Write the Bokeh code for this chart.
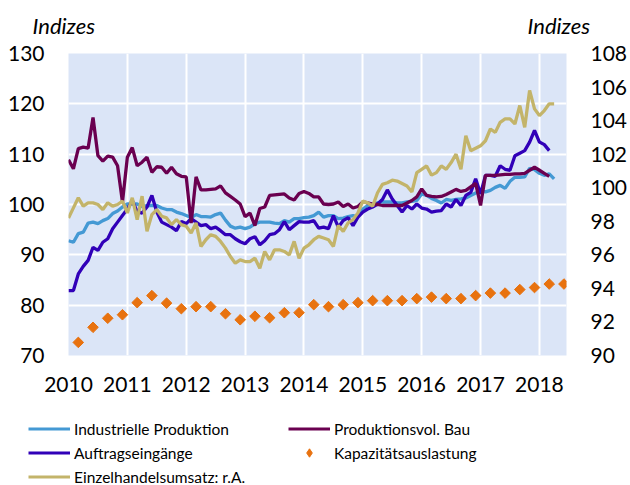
import math
from bokeh.plotting import figure
from bokeh.layouts import column
from bokeh.models import (Range1d, LinearAxis, FixedTicker, Legend, LegendItem, Label)
from bokeh.embed import file_html
from bokeh.resources import INLINE

# ---------------- data (monthly, from Jan 2010) ----------------
start_year = 2010
year_ticks = [2010, 2011, 2012, 2013, 2014, 2015, 2016, 2017, 2018]
left_ticks = [70, 80, 90, 100, 110, 120, 130]
right_ticks = [90, 92, 94, 96, 98, 100, 102, 104, 106, 108]

industrielle_produktion = [
    92.8, 92.5, 94.2, 94.5, 96.3, 96.5, 96.2, 96.8, 97.2, 98.2, 98.7, 99.5,
    100.1, 100.1, 100.1, 99.6, 99.8, 99.8, 99.8, 99.3, 99.0, 99.0, 98.5, 98.2,
    97.8, 97.4, 98.0, 97.6, 97.6, 97.5, 98.0, 98.3, 96.9, 95.7, 95.3, 95.5,
    95.2, 95.5, 96.2, 96.5, 96.5, 96.5, 96.3, 96.2, 96.8, 96.5, 97.2, 97.2,
    97.4, 97.5, 97.8, 98.5, 97.5, 97.8, 97.8, 97.2, 97.3, 97.6, 97.8, 97.5,
    99.1, 99.8, 100.1, 100.3, 100.5, 100.5, 100.5, 100.3, 100.3, 100.5, 100.6, 100.8,
    102.1, 101.8, 101.2, 100.8, 100.3, 101.0, 100.8, 101.0, 101.1, 101.3, 101.8, 102.3,
    102.7, 102.5, 102.8, 103.4, 103.8, 103.2, 104.6, 105.4, 105.4, 105.5, 107.2, 106.9,
    106.2, 105.8, 106.1, 105.1,
]
produktion_bau = [
    108.9, 107.1, 111.1, 111.4, 111.2, 117.3, 109.7, 108.6, 109.6, 109.4, 107.7, 100.5,
    109.4, 111.3, 107.7, 108.4, 109.4, 106.4, 107.5, 107.4, 106.2, 107.4, 106.1, 105.6,
    105.5, 96.3, 105.5, 102.9, 102.9, 103.0, 103.1, 103.7, 102.3, 101.6, 100.9, 100.1,
    97.6, 98.3, 95.8, 99.2, 99.5, 101.8, 101.9, 102.0, 102.1, 101.3, 100.9, 102.2,
    102.6, 102.2, 101.5, 101.5, 100.1, 100.0, 100.1, 100.5, 99.6, 100.1, 99.3, 99.6,
    100.5, 100.3, 100.1, 100.0, 99.8, 99.8, 99.8, 99.8, 99.8, 100.3, 100.8, 101.5,
    103.1, 101.8, 101.6, 101.5, 101.6, 102.0, 102.5, 103.0, 102.6, 102.8, 103.5, 104.2,
    99.8, 105.8, 105.8, 105.8, 105.9, 106.0, 106.0, 106.1, 106.1, 106.2, 106.8, 107.4,
    106.8, 106.2, 105.6,
]
auftragseingaenge = [
    82.9, 82.9, 86.2, 87.7, 88.9, 91.5, 90.9, 92.5, 93.2, 95.2, 96.5, 97.8,
    99.1, 100.8, 98.6, 98.3, 99.5, 101.8, 98.5, 96.5, 96.0, 95.5, 94.8, 96.6,
    96.2, 97.2, 96.5, 95.8, 96.0, 95.2, 95.5, 94.8, 94.0, 94.0, 93.2, 92.6,
    92.2, 93.2, 93.6, 92.0, 92.8, 94.0, 94.2, 95.0, 96.6, 95.0, 95.8, 96.6,
    96.5, 96.5, 96.8, 95.3, 95.5, 95.2, 97.8, 95.5, 96.8, 97.4, 95.8, 97.5,
    98.5, 99.1, 99.5, 100.1, 101.0, 102.9, 101.1, 99.8, 98.5, 99.8, 99.1, 100.1,
    99.3, 99.1, 98.5, 98.7, 98.8, 100.1, 99.5, 101.0, 99.8, 101.8, 102.4, 105.1,
    102.1, 105.8, 105.8, 105.6, 107.7, 107.0, 106.8, 109.7, 110.2, 110.7, 112.4, 114.7,
    112.4, 111.9, 110.7,
]
einzelhandelsumsatz = [
    98.2, 98.8, 99.4, 98.9, 99.1, 99.1, 99.0, 98.7, 99.1, 98.9, 99.0, 99.2,
    98.5, 99.4, 98.1, 99.5, 97.4, 98.4, 98.7, 98.3, 98.2, 97.8, 98.1, 97.8,
    97.7, 97.3, 97.9, 96.5, 96.9, 97.2, 97.1, 96.8, 96.4, 95.9, 95.5, 95.7,
    95.6, 95.6, 95.8, 95.2, 96.2, 95.7, 96.3, 96.3, 96.2, 96.0, 96.8, 95.8,
    96.4, 96.6, 96.9, 97.1, 97.0, 96.9, 96.5, 97.75, 97.4, 97.9, 98.1, 98.5,
    99.2, 99.1, 98.9, 99.7, 100.2, 100.3, 100.45, 100.4, 100.25, 100.1, 99.75, 100.9,
    101.1, 101.3, 100.75, 100.9, 101.3, 101.1, 101.5, 102.0, 101.1, 103.1, 102.2, 102.35,
    102.5, 102.8, 103.5, 103.3, 103.9, 104.1, 104.1, 103.8, 104.9, 103.6, 105.8, 104.7,
    104.3, 104.6, 105.0, 105.0,
]
# quarterly, 2010Q1 .. 2018Q2
kapazitaetsauslastung = [
    72.6, 75.6, 77.4, 78.1, 80.5, 81.9, 80.4, 79.3, 79.7, 79.7, 78.3, 77.1,
    77.8, 77.5, 78.5, 78.5, 80.1, 79.7, 80.1, 80.5, 80.9, 80.9, 80.9, 81.3,
    81.6, 81.3, 81.3, 81.9, 82.4, 82.4, 83.1, 83.5, 84.2, 84.2,
]

labels = ["Industrielle Produktion", "Produktionsvol. Bau", "Auftragseingänge",
          "Kapazitätsauslastung", "Einzelhandelsumsatz: r.A."]
axis_title = "Indizes"


def month_x(n):
    return [start_year + i / 12 for i in range(n)]


x_ip = month_x(len(industrielle_produktion))
x_bau = month_x(len(produktion_bau))
x_auf = month_x(len(auftragseingaenge))
x_ezh = month_x(len(einzelhandelsumsatz))
x_kap = [start_year + (3 * q + 2) / 12 for q in range(len(kapazitaetsauslastung))]

C_IP = "#4499d4"
C_BAU = "#6a0050"
C_AUF = "#3100b8"
C_EZH = "#c3b46a"
C_KAP = "#e8720f"
BG = "#dbe5f7"
FONT = "Lato"
W = 630
H_HEAD, H_MAIN, H_FOOT = 41, 359, 85


def bare(fig):
    fig.outline_line_color = None
    fig.background_fill_color = "white"
    fig.border_fill_color = "white"
    fig.xgrid.visible = False
    fig.ygrid.visible = False


# ---------------- header (axis titles) ----------------
head = figure(width=W, height=H_HEAD, output_backend="svg", toolbar_location=None,
              x_range=Range1d(0, W), y_range=Range1d(H_HEAD, 0),
              x_axis_location=None, y_axis_location=None, min_border=0,
              frame_align=False)
bare(head)
for xx in (32, 527):
    head.add_layout(Label(x=xx, y=25, text=axis_title, text_font=FONT,
                          text_font_style="italic", text_font_size="22px",
                          text_color="black", text_baseline="alphabetic"))

# ---------------- main chart ----------------
p = figure(width=W, height=H_MAIN, output_backend="svg", toolbar_location=None,
           x_range=Range1d(2010, 2018.46), y_range=Range1d(70, 130),
           min_border_left=68, min_border_right=62, min_border_top=12,
           min_border_bottom=45, frame_align=False)
p.background_fill_color = BG
p.border_fill_color = "white"
p.outline_line_color = None
p.extra_y_ranges = {"right": Range1d(90, 108)}

p.xaxis.ticker = FixedTicker(ticks=year_ticks)
p.yaxis.ticker = FixedTicker(ticks=left_ticks)
ax_r = LinearAxis(y_range_name="right", ticker=FixedTicker(ticks=right_ticks))
p.add_layout(ax_r, "right")
for ax in (p.xaxis[0], p.yaxis[0], ax_r):
    ax.axis_line_color = None
    ax.major_tick_line_color = None
    ax.minor_tick_line_color = None
    ax.major_tick_out = 0
    ax.major_tick_in = 0
    ax.major_label_text_font = FONT
    ax.major_label_text_font_size = "21px"
    ax.major_label_text_color = "black"
p.xaxis.major_label_standoff = 21
p.yaxis.major_label_standoff = 24
ax_r.major_label_standoff = 24

p.xgrid.ticker = FixedTicker(ticks=year_ticks)
p.ygrid.ticker = FixedTicker(ticks=left_ticks)
for g in (p.xgrid[0], p.ygrid[0]):
    g.grid_line_color = "white"
    g.grid_line_width = 2

LW = 3.3
p.line(x_ip, industrielle_produktion, line_color=C_IP, line_width=LW)
p.line(x_auf, auftragseingaenge, line_color=C_AUF, line_width=LW)
p.line(x_bau, produktion_bau, line_color=C_BAU, line_width=LW)
p.scatter(x_kap, kapazitaetsauslastung, marker="square", angle=math.pi / 4,
          size=7.5, fill_color=C_KAP, line_color=C_KAP)
p.line(x_ezh, einzelhandelsumsatz, line_color=C_EZH, line_width=LW,
       y_range_name="right")

# ---------------- footer (legend; series kept outside its view range) ----------------
foot = figure(width=W, height=H_FOOT, output_backend="svg", toolbar_location=None,
              x_range=Range1d(0, 1), y_range=Range1d(0, 1),
              x_axis_location=None, y_axis_location=None, min_border=0,
              frame_align=False)
bare(foot)
LLW = 3
k_ip = foot.line(x_ip, industrielle_produktion, line_color=C_IP, line_width=LLW)
k_bau = foot.line(x_bau, produktion_bau, line_color=C_BAU, line_width=LLW)
k_auf = foot.line(x_auf, auftragseingaenge, line_color=C_AUF, line_width=LLW)
k_kap = foot.scatter(x_kap, kapazitaetsauslastung, marker="diamond",
                     size=6, fill_color=C_KAP, line_color=C_KAP)
k_ezh = foot.line(x_ezh, einzelhandelsumsatz, line_color=C_EZH, line_width=LLW)

legend = Legend(items=[
    LegendItem(label=labels[0], renderers=[k_ip]),
    LegendItem(label=labels[2], renderers=[k_auf]),
    LegendItem(label=labels[4], renderers=[k_ezh]),
    LegendItem(label=labels[1], renderers=[k_bau]),
    LegendItem(label=labels[3], renderers=[k_kap]),
], nrows=3, orientation="vertical", location=(28, -2))
legend.label_text_font = FONT
legend.label_text_font_size = "15.5px"
legend.label_text_color = "black"
legend.glyph_width = 42
legend.glyph_height = 21
legend.label_height = 21
legend.label_width = 211
legend.label_standoff = 4
legend.spacing = 3
legend.padding = 0
legend.margin = 0
legend.border_line_color = None
legend.background_fill_alpha = 0
foot.add_layout(legend, "center")

page = column(head, p, foot, spacing=0)
open("out.html", "w").write(file_html(page, INLINE))
